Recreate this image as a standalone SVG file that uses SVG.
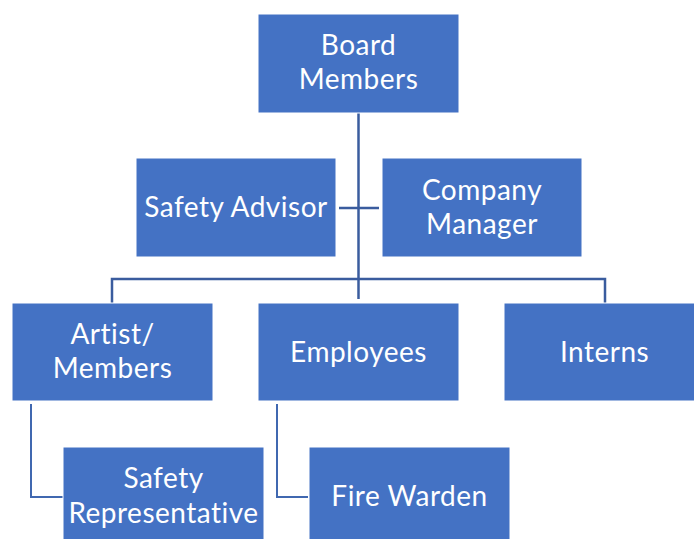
<svg xmlns="http://www.w3.org/2000/svg" width="694" height="539" viewBox="0 0 694 539">
  <style>
    .box { fill: #4472C4; stroke: #FFFFFF; stroke-width: 1; }
    .lbl { fill: #FFFFFF; font-family: "Lato", "Liberation Sans", sans-serif; font-size: 28px; letter-spacing: 0.5px; text-anchor: middle; }
    .conn { fill: none; stroke: #3A5C9E; stroke-width: 2.5; }
    .conn2 { fill: none; stroke: #4068B0; stroke-width: 2; }
  </style>
  <rect width="694" height="539" fill="#FFFFFF"/>
  <g id="connectors">
    <line class="conn" x1="358.5" y1="113" x2="358.5" y2="299"/>
    <line class="conn" x1="339" y1="208" x2="379" y2="208"/>
    <polyline class="conn" points="112,303 112,279 605,279 605,303"/>
    <polyline class="conn2" points="31,404 31,497 63,497"/>
    <polyline class="conn2" points="277,404 277,497 308,497"/>
  </g>
  <g id="board-members">
    <rect class="box" x="258" y="14" width="201" height="99"/>
    <text class="lbl" x="358.5" y="55">Board</text>
    <text class="lbl" x="358.5" y="89">Members</text>
  </g>
  <g id="safety-advisor">
    <rect class="box" x="136" y="158" width="200" height="99"/>
    <text class="lbl" x="236" y="217">Safety Advisor</text>
  </g>
  <g id="company-manager">
    <rect class="box" x="382" y="158" width="200" height="99"/>
    <text class="lbl" x="482" y="200">Company</text>
    <text class="lbl" x="482" y="234">Manager</text>
  </g>
  <g id="artist-members">
    <rect class="box" x="12" y="303" width="201" height="98"/>
    <text class="lbl" x="112.5" y="344">Artist/</text>
    <text class="lbl" x="112.5" y="378">Members</text>
  </g>
  <g id="employees">
    <rect class="box" x="258" y="303" width="201" height="98"/>
    <text class="lbl" x="358.5" y="362">Employees</text>
  </g>
  <g id="interns">
    <rect class="box" x="504" y="303" width="201" height="98"/>
    <text class="lbl" x="604.5" y="362">Interns</text>
  </g>
  <g id="safety-representative">
    <rect class="box" x="63" y="447" width="201" height="99"/>
    <text class="lbl" x="163.5" y="488">Safety</text>
    <text class="lbl" x="163.5" y="523">Representative</text>
  </g>
  <g id="fire-warden">
    <rect class="box" x="309" y="447" width="201" height="99"/>
    <text class="lbl" x="409.5" y="506">Fire Warden</text>
  </g>
</svg>
